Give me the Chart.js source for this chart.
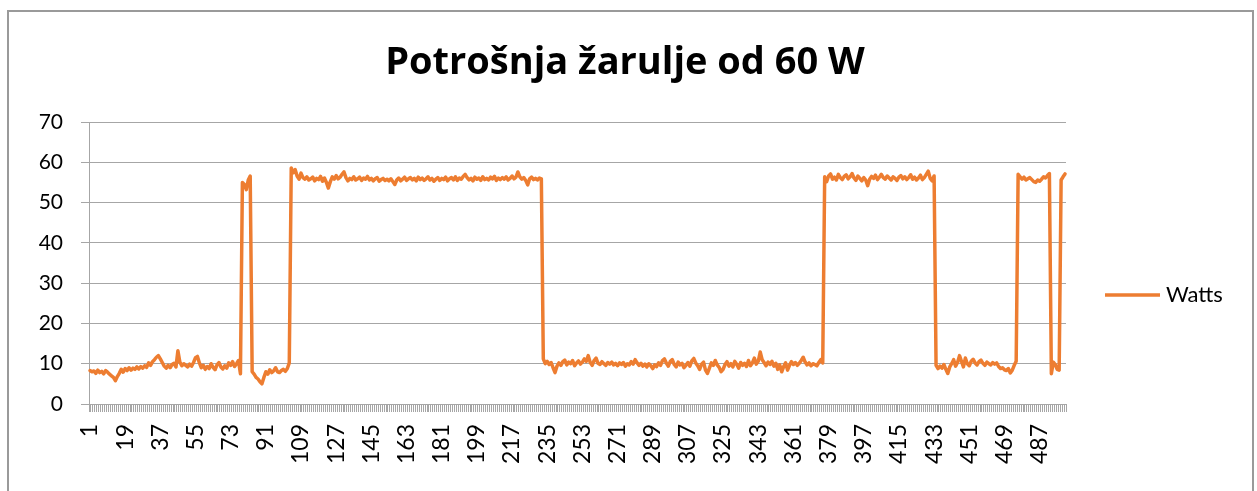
<!DOCTYPE html>
<html lang="hr">

<head>
    <meta charset="UTF-8">
    <meta name="viewport" content="width=device-width, initial-scale=1.0">
    <script src="https://cdn.jsdelivr.net/npm/chart.js"></script>
    <title>Potrošnja žarulje od 60 W</title>
    <style>
        html, body { margin: 0; padding: 0; background: #fff; }
        .chart { position: relative; width: 1257px; height: 491px; }
    </style>
</head>

<body>
    <div class="chart">
        <canvas id="myChart"></canvas>
    </div>

<script>
    // naslov i serija
    const chartTitle = 'Potrošnja žarulje od 60 W'
    const seriesName = 'Watts'

    // izmjereni vati, 500 uzoraka
    const watts = [
        8.3, 8.0, 8.2, 7.6, 8.4, 7.8, 8.1, 7.5, 8.3, 7.9,
        7.4, 7.0, 6.6, 5.8, 6.8, 7.6, 8.6, 7.9, 8.8, 8.3,
        9.0, 8.4, 8.9, 8.6, 9.2, 8.7, 9.3, 8.9, 9.5, 9.1,
        10.2, 9.6, 10.5, 11.0, 11.6, 12.0, 11.2, 10.3, 9.4, 8.9,
        9.6, 9.0, 9.8, 10.1, 9.2, 13.2, 10.4, 9.5, 10.0, 9.6,
        9.2, 9.9, 9.4, 10.3, 11.5, 11.8, 10.2, 9.0, 9.6, 8.6,
        9.3, 8.8, 10.0, 9.1, 8.5, 9.7, 10.3, 9.2, 8.7, 9.5,
        8.9, 10.2, 9.6, 10.5, 9.3, 10.0, 10.8, 7.5,
        55.0, 54.5, 53.2, 55.6, 56.6,
        8.0, 7.4, 6.6, 6.2, 5.5, 5.0, 6.6, 8.0, 7.4, 8.5,
        7.8, 8.2, 9.0, 8.0, 7.8, 8.3, 8.6, 8.1, 8.8, 10.2,
        58.6, 57.4, 58.2, 56.6, 55.8, 57.3, 56.2, 55.8, 56.4, 55.6,
        55.9, 56.3, 55.4, 56.0, 55.7, 56.5, 55.3, 56.1, 55.0, 53.6,
        55.2, 56.4, 55.8, 56.7, 55.9, 56.3, 57.0, 57.6, 56.2, 55.4,
        56.0, 55.7, 56.4, 55.6, 55.9, 56.3, 55.5, 56.1, 55.8, 56.5,
        55.6, 56.0, 55.4, 55.9, 56.2, 55.3, 55.7, 56.0, 55.5, 55.8,
        55.4, 55.9, 55.2, 54.5, 55.6, 56.1, 55.4, 55.8, 56.3, 55.5,
        55.9, 56.2, 55.6, 56.0, 55.4, 56.3, 55.7, 56.1, 55.5, 55.9,
        56.4, 55.6, 56.0, 55.3, 55.8, 56.2, 55.5, 56.0, 55.7, 56.3,
        55.4, 55.9, 56.2, 55.6, 56.4, 55.5, 56.1, 55.8, 56.5, 57.0,
        56.2, 55.6, 56.0, 55.4, 56.3, 55.8, 56.1, 55.5, 56.4, 55.7,
        56.0, 55.6, 56.3, 55.9, 56.5, 55.5, 56.1, 55.7, 56.2, 55.8,
        56.4, 55.6, 56.0, 56.6, 55.9, 56.3, 57.6, 56.4, 55.8, 56.2,
        55.5, 54.4, 55.9, 56.3, 55.7, 56.0, 55.6, 56.1, 55.9,
        11.2, 10.0, 10.6, 9.8, 10.3, 9.0, 7.8, 9.4, 10.2, 9.6,
        10.5, 10.9, 9.7, 10.4, 10.0, 10.8, 9.5, 10.2, 10.7, 9.9,
        10.4, 11.2, 10.6, 12.0, 10.3, 9.6, 10.8, 11.4, 10.1, 9.8,
        10.5, 10.0, 9.6, 10.3, 9.9, 10.4, 9.7, 10.1, 9.5, 10.2,
        9.8, 10.3, 9.4, 10.0, 9.7, 10.5, 9.9, 11.0, 10.2, 9.6,
        10.1, 9.4, 9.9, 9.2, 10.0, 9.5, 8.8, 9.7, 9.3, 10.2,
        9.6, 10.8, 11.2, 10.1, 9.4, 10.6, 11.0, 9.8, 9.2, 10.4,
        9.7, 10.1, 9.0, 9.6, 10.3, 9.4, 10.7, 11.3, 10.2, 9.5,
        8.6, 9.9, 10.4, 8.4, 7.6, 8.9, 10.2, 9.6, 10.8, 9.7,
        9.1, 8.0, 8.6, 9.8, 10.5, 9.4, 10.0, 9.2, 10.6, 9.8,
        8.9, 10.3, 9.6, 10.1, 9.3, 10.8, 9.5, 10.2, 11.4, 9.9,
        10.6, 12.9, 11.0, 10.3, 9.5, 10.4, 9.8, 10.6, 9.4, 10.1,
        8.6, 9.7, 8.0, 9.3, 10.2, 8.4, 9.6, 10.5, 9.8, 10.3,
        9.6, 10.1, 10.8, 11.6, 10.4, 9.7, 10.2, 9.5, 10.0, 9.8,
        9.5, 10.3, 11.0, 10.2,
        56.4, 55.2, 56.6, 57.1, 55.8, 56.3, 55.6, 57.0, 56.2, 55.7,
        56.5, 56.9, 55.9, 56.4, 57.2, 56.1, 55.5, 56.6, 56.0, 55.4,
        56.2, 55.6, 54.2, 55.8, 56.5, 56.0, 56.8, 55.7, 56.3, 57.0,
        56.2, 55.8, 56.6, 56.1, 55.6, 56.4, 56.0, 55.5, 56.3, 56.7,
        55.9, 56.4, 55.7, 56.2, 56.9, 55.8, 56.3, 55.6, 56.1, 56.8,
        55.7, 56.2, 57.0, 57.8, 56.0, 55.4, 56.6,
        9.6, 8.8, 9.4, 8.9, 9.8, 8.6, 7.6, 9.2, 10.0, 11.0,
        9.4, 10.3, 12.0, 10.6, 9.2, 11.4, 10.0, 9.5, 10.6, 11.1,
        10.2, 9.7, 10.5, 10.9, 10.1, 9.6, 10.4, 10.0, 9.7, 10.3,
        9.9, 10.2, 9.3, 8.8, 9.0, 8.5, 8.3, 8.8, 7.7, 8.4,
        9.6, 10.6,
        57.0, 56.4, 55.8, 56.3, 55.6, 55.9, 56.2, 55.7, 55.2, 55.0,
        55.6, 55.3, 55.8, 56.4, 56.1, 56.7, 57.2,
        7.5, 10.4, 9.8, 8.6, 8.4,
        55.6, 56.4, 57.1
    ]

    // kategorije 1..500, svaka 18. se ispisuje
    const categories = []
    for (let i = 1; i <= watts.length; i++) {
        categories.push(String(i))
    }
    const labelStep = 18

    // os y
    const yMin = 0
    const yMax = 70
    const yStep = 10

    const orange = '#ED7D31'
    const gray = '#A6A6A6'

    // okvir, naslov i legenda (kao u Excelu)
    const excelFrame = {
        id: 'excelFrame',
        beforeDraw(chart) {
            const c = chart.ctx
            c.save()
            c.fillStyle = '#fff'
            c.fillRect(0, 0, chart.width, chart.height)
            c.strokeStyle = '#9A9A9A'
            c.lineWidth = 2
            c.strokeRect(8, 11, 1245, 500)
            c.restore()
        },
        afterDraw(chart) {
            const c = chart.ctx
            c.save()
            c.fillStyle = '#000'
            c.font = 'bold 38px "Open Sans"'
            c.textAlign = 'center'
            c.textBaseline = 'alphabetic'
            c.fillText(chartTitle, 625, 74)

            c.strokeStyle = orange
            c.lineWidth = 3.5
            c.beginPath()
            c.moveTo(1105, 295)
            c.lineTo(1160, 295)
            c.stroke()

            c.font = '22px Lato'
            c.textAlign = 'left'
            c.fillText(chart.data.datasets[0].label, 1166, 302)
            c.restore()
        }
    }

    const ctx = document.getElementById('myChart')

    new Chart(ctx, {
        type: 'line',
        data: {
            labels: categories,
            datasets: [{
                label: seriesName,
                data: watts,
                borderColor: orange,
                backgroundColor: orange,
                borderWidth: 3.5,
                borderJoinStyle: 'round',
                borderCapStyle: 'round',
                pointRadius: 0,
                tension: 0
            }]
        },
        options: {
            responsive: true,
            maintainAspectRatio: false,
            animation: false,
            layout: {
                padding: { top: 122, right: 191, bottom: 0, left: 0 }
            },
            plugins: {
                legend: { display: false },
                title: { display: false },
                tooltip: { enabled: false }
            },
            scales: {
                x: {
                    offset: true,
                    afterFit(scale) { scale.height = 87 },
                    border: { color: gray, width: 1 },
                    grid: {
                        offset: true,
                        drawOnChartArea: false,
                        drawTicks: true,
                        tickLength: 8,
                        color: gray
                    },
                    ticks: {
                        autoSkip: false,
                        minRotation: 90,
                        maxRotation: 90,
                        padding: 12,
                        color: '#000',
                        font: { family: 'Lato', size: 23 },
                        callback: function (value, index) {
                            return index % labelStep === 0 ? categories[index] : ''
                        }
                    }
                },
                y: {
                    min: yMin,
                    max: yMax,
                    afterFit(scale) { scale.width = 89 },
                    border: { color: gray, width: 1 },
                    grid: {
                        color: gray,
                        tickLength: 8
                    },
                    ticks: {
                        stepSize: yStep,
                        padding: 18,
                        color: '#000',
                        font: { family: 'Lato', size: 21 }
                    }
                }
            }
        },
        plugins: [excelFrame]
    });
</script>
</body>

</html>
